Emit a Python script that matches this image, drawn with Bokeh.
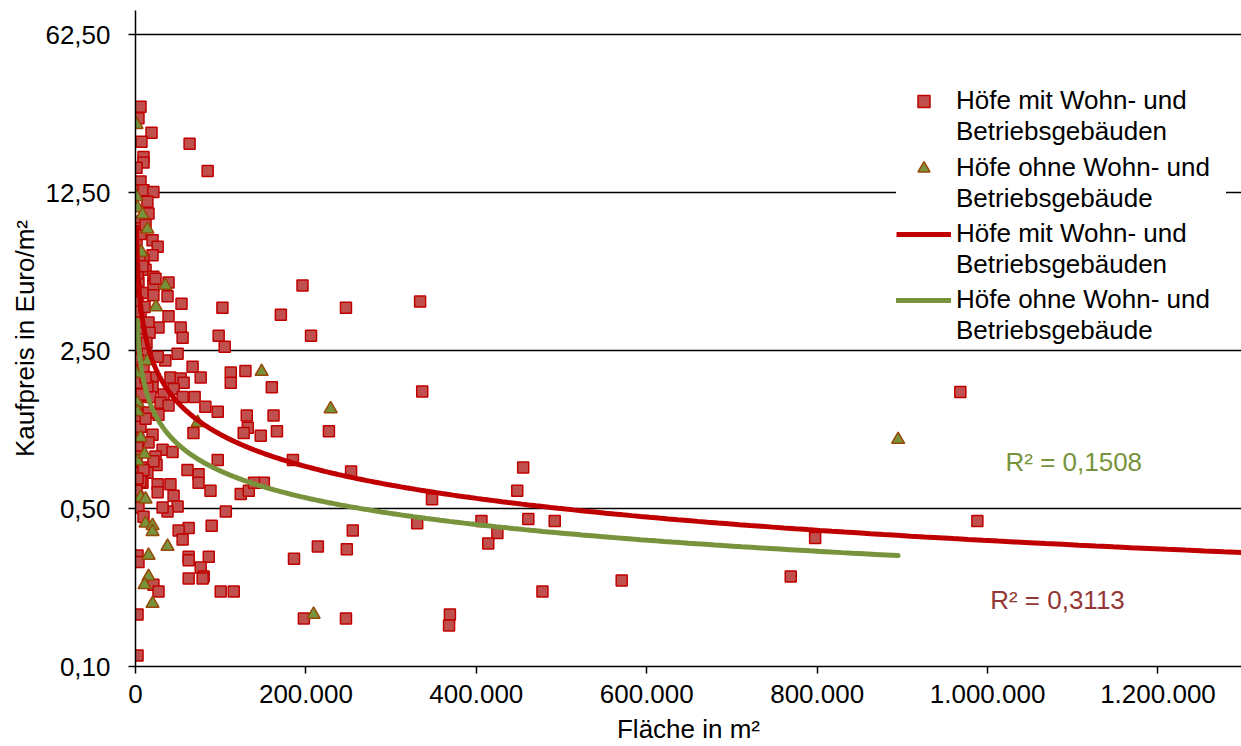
import numpy as np
from bokeh.plotting import figure
from bokeh.models import (Range1d, FixedTicker, CustomJSTickFormatter, Legend,
                          LegendItem, Label)
from bokeh.embed import file_html
from bokeh.resources import INLINE

# ---------------- data ----------------
# Höfe mit Wohn- und Betriebsgebäuden  (Fläche m², Kaufpreis €/m²)
mit_flaeche = [
    5900, 3500, 18800, 7000, 63500, 84700, 9400, 9400, 1200, 5900,
    2400, 9400, 21000, 14000, 15300, 3500, 2400, 20000, 26000, 20000,
    9400, 11800, 21000, 38800, 2400, 3500, 600, 21000, 21000, 37600,
    54000, 38800, 27000, 53000, 55300, 15300, 16500, 600, 2400, 102000,
    170600, 196000, 206000, 97600, 104700, 23500, 49400, 35000, 26000, 67000,
    76500, 111800, 111800, 129000, 160000, 41000, 53000, 56500, 44700, 20000,
    20000, 33000, 55300, 69400, 17600, 3500, 29400, 38800, 27000, 82000,
    96500, 130600, 162000, 131800, 127000, 147000, 166000, 68000, 20000, 15300,
    31800, 43500, 23500, 7000, 24700, 96500, 184700, 61000, 74000, 2400,
    14000, 21000, 8200, 26000, 41000, 88000, 5900, 74000, 123500, 133000,
    150600, 139000, 106000, 89400, 62400, 50600, 55300, 62400, 62400, 86000,
    76500, 80000, 78800, 62400, 100000, 115300, 197600, 186000, 214000, 2400,
    2400, 2400, 3500, 21000, 27000, 26000, 44700, 49400, 37600, 31800,
    2400, 3500, 9400, 247000, 334000, 336500, 227000, 253000, 348000, 455000,
    448000, 406000, 461000, 492000, 330600, 255000, 248000, 424700, 414000, 477600,
    247000, 369000, 368000, 570600, 769000, 797600, 968000, 988000,
    2400, 8200, 2400, 5900, 2400, 5900, 3500, 8200, 2400, 9400,
    3500, 14000, 3500, 3500, 15300, 3500, 2400, 9400, 2400, 1200,
    5900, 11800, 4700, 8200, 1200, 1200, 5900, 1200, 1200, 11800,
    11800, 7000, 10600, 12900,
]
mit_preis = [
    30.0, 26.7, 23.0, 21.0, 20.6, 15.6, 18.0, 17.0, 16.1, 14.0,
    12.8, 12.8, 12.6, 11.4, 10.1, 9.3, 8.7, 7.7, 7.2, 6.6,
    6.3, 5.7, 5.3, 5.0, 5.3, 5.0, 4.6, 4.85, 4.4, 4.35,
    4.03, 3.55, 3.16, 3.16, 2.85, 3.33, 3.0, 3.53, 3.0, 3.87,
    3.6, 4.85, 2.91, 2.91, 2.6, 5.2, 2.42, 2.26, 2.35, 2.12,
    1.9, 2.0, 1.8, 2.03, 1.72, 1.9, 1.88, 1.8, 1.69, 1.9,
    1.72, 1.6, 1.56, 1.56, 1.56, 1.56, 1.47, 1.43, 1.3, 1.41,
    1.34, 1.29, 1.29, 1.14, 1.08, 1.05, 1.1, 1.08, 1.06, 0.98,
    0.91, 0.89, 0.85, 0.76, 0.78, 0.82, 0.82, 0.74, 0.71, 0.72,
    0.72, 0.81, 0.65, 0.64, 0.64, 0.6, 0.66, 0.65, 0.58, 0.6,
    0.65, 0.65, 0.485, 0.42, 0.41, 0.4, 0.365, 0.306, 0.295, 0.306,
    0.274, 0.25, 0.245, 0.245, 0.215, 0.215, 0.163, 0.3, 0.34, 0.17,
    0.112, 0.31, 0.29, 0.23, 0.215, 0.59, 0.57, 0.51, 0.485, 0.505,
    0.56, 0.505, 0.46, 3.87, 4.12, 1.65, 1.1, 0.73, 0.55, 0.76,
    0.6, 0.44, 0.45, 0.44, 0.43, 0.4, 0.33, 0.39, 0.35, 0.215,
    0.163, 0.17, 0.152, 0.24, 0.25, 0.37, 1.64, 0.44,
    5.5, 4.5, 4.08, 3.72, 3.33, 3.0, 2.8, 2.5, 2.28, 2.12,
    1.8, 1.74, 1.33, 1.22, 1.33, 1.01, 0.93, 0.74, 0.68, 7.7,
    8.2, 9.0, 6.5, 5.9, 2.6, 1.4, 1.15, 0.85, 0.6, 1.9,
    1.25, 1.6, 3.9, 2.7,
]

# Höfe ohne Wohn- und Betriebsgebäude
ohne_flaeche = [
    1200, 1200, 2400, 8200, 14000, 7000, 35000, 24000, 14000, 600,
    2400, 2400, 73000, 5900, 2400, 10600, 148000, 229000, 895000, 209000,
    5900, 11800, 11800, 20000, 20000, 37600, 15300, 15300, 10600, 20000,
]
ohne_preis = [
    25.0, 12.0, 10.7, 10.0, 8.6, 6.8, 4.85, 3.9, 2.25, 1.98,
    1.47, 1.34, 1.2, 1.03, 0.81, 0.87, 2.02, 1.38, 1.01, 0.17,
    0.56, 0.55, 0.43, 0.42, 0.395, 0.34, 0.31, 0.25, 0.23, 0.19,
]

# power trendlines y = a * x^b  (coefficients)
trend_mit = {"a": 234.0, "b": -0.4686, "x_from": 1050, "x_to": 1300000, "r2": "R² = 0,3113"}
trend_ohne = {"a": 67.6, "b": -0.393, "x_from": 2000, "x_to": 895000, "r2": "R² = 0,1508"}

x_ticks = [0, 200000, 400000, 600000, 800000, 1000000, 1200000]
y_ticks = [0.1, 0.5, 2.5, 12.5, 62.5]

label_mit = ["Höfe mit Wohn- und", "Betriebsgebäuden"]
label_ohne = ["Höfe ohne Wohn- und", "Betriebsgebäude"]

# ---------------- styling ----------------
FONT = "Liberation Sans"
FS = "26px"
RED_FILL = "#C0504D"
RED_LINE = "#C00000"
GREEN = "#77933C"
TRI_LINE = "#984807"
R2_RED = "#953735"

p = figure(width=1241, height=746, output_backend="svg", toolbar_location=None,
           x_range=Range1d(0, 1298000), y_range=Range1d(0.1, 80),
           y_axis_type="log",
           min_border_left=135, min_border_right=0, min_border_top=10,
           min_border_bottom=80)
p.outline_line_color = None
p.background_fill_color = "white"
p.border_fill_color = "white"

sq = p.scatter(mit_flaeche, mit_preis, marker="square", size=11,
               fill_color=RED_FILL, line_color=RED_LINE, line_width=1.5)
tr = p.scatter(ohne_flaeche, ohne_preis, marker="triangle", size=13,
               fill_color=GREEN, line_color=TRI_LINE, line_width=1.5)

def trend_xy(t):
    xs = np.geomspace(t["x_from"], t["x_to"], 400)
    return xs, t["a"] * xs ** t["b"]

xm, ym = trend_xy(trend_mit)
xo, yo = trend_xy(trend_ohne)
lr = p.line(xm, ym, line_color=RED_LINE, line_width=5)
lg = p.line(xo, yo, line_color=GREEN, line_width=5, line_cap="round")
blank = p.line([], [], line_alpha=0)

# axes
for ax in (p.xaxis[0], p.yaxis[0]):
    ax.axis_line_color = "black"
    ax.axis_line_width = 1.5
    ax.major_tick_line_color = "black"
    ax.major_tick_line_width = 1.5
    ax.major_tick_out = 7
    ax.major_tick_in = 0
    ax.minor_tick_out = 0
    ax.minor_tick_in = 0
    ax.major_label_text_font = FONT
    ax.major_label_text_font_size = FS
    ax.major_label_text_color = "black"
    ax.axis_label_text_font = FONT
    ax.axis_label_text_font_size = FS
    ax.axis_label_text_font_style = "normal"
    ax.axis_label_text_color = "black"

p.xaxis.ticker = FixedTicker(ticks=x_ticks)
p.xaxis.formatter = CustomJSTickFormatter(
    code="return Math.round(tick).toString().replace(/\\B(?=(\\d{3})+(?!\\d))/g, '.');")
p.xaxis.axis_label = "Fläche in m²"
p.xaxis.major_label_standoff = 11
p.xaxis.axis_label_standoff = 8

yt = FixedTicker(ticks=y_ticks)
p.yaxis.ticker = yt
p.yaxis.formatter = CustomJSTickFormatter(code="return tick.toFixed(2).replace('.', ',');")
p.yaxis.axis_label = "Kaufpreis in Euro/m²"
p.yaxis.major_label_standoff = 18
p.yaxis.axis_label_standoff = 2

p.xgrid.visible = False
p.ygrid.ticker = yt
p.ygrid.grid_line_color = "black"
p.ygrid.grid_line_width = 1.5

# R² annotations
p.add_layout(Label(x=1021000, y=0.80, text=trend_ohne["r2"], text_color=GREEN,
                   text_font=FONT, text_font_size=FS, text_baseline="middle"))
p.add_layout(Label(x=1003000, y=0.196, text=trend_mit["r2"], text_color=R2_RED,
                   text_font=FONT, text_font_size=FS, text_baseline="middle"))

# legend: four blocks of two lines each
entries = [(sq, label_mit, 519), (tr, label_ohne, 452), (lr, label_mit, 386), (lg, label_ohne, 320)]
for rend, lab, vy in entries:
    leg = Legend(items=[LegendItem(label=lab[0], renderers=[rend]),
                        LegendItem(label=lab[1], renderers=[blank])],
                 location=(761, vy), glyph_width=55, glyph_height=30,
                 label_height=30, label_width=270, label_standoff=5, spacing=0,
                 padding=3, margin=0, border_line_color=None,
                 background_fill_color="white", background_fill_alpha=1,
                 label_text_font=FONT, label_text_font_size=FS,
                 label_text_color="black")
    p.add_layout(leg)

open("out.html", "w").write(file_html(p, INLINE))
